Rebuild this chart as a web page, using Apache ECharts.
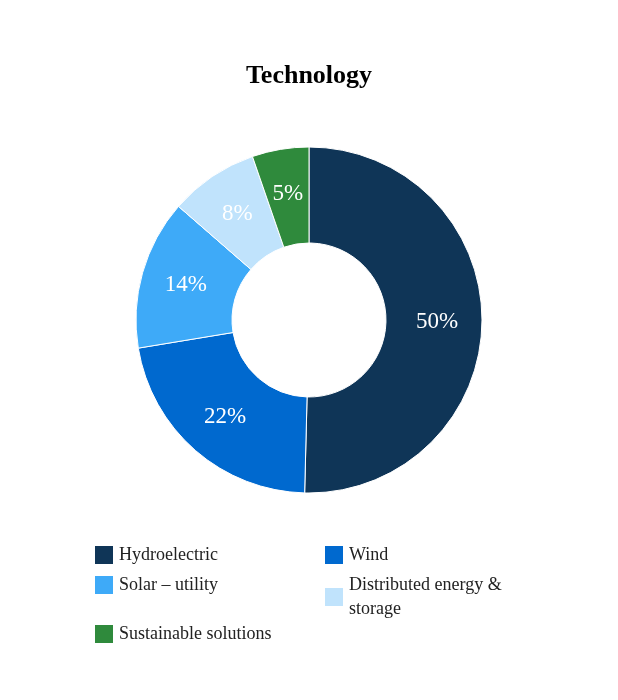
<!DOCTYPE html>
<html><head><meta charset="utf-8">
<script src="https://cdn.jsdelivr.net/npm/echarts@6/dist/echarts.min.js"></script>
<style>html,body{margin:0;padding:0;background:#fff}#c{width:618px;height:700px}</style>
</head><body><div id="c"></div>
<script>
const categories = ['Hydroelectric','Wind','Solar – utility','Distributed energy &\nstorage','Sustainable solutions'];
const values = [50.4, 22, 14, 8.3, 5.3];
const labels = ['50%','22%','14%','8%','5%'];
const colors = ['#0f3557','#0069cf','#3eaaf8','#c0e3fc','#2f8a3c'];
const font = '"Liberation Serif", "Times New Roman", serif';
const chart = echarts.init(document.getElementById('c'));
const legendBase = {orient:'vertical', itemWidth:20, itemHeight:20, itemGap:6, icon:'rect',
  textStyle:{fontFamily:font, fontSize:18, color:'#222', lineHeight:24}, selectedMode:false};
chart.setOption({
  title:{text:'Technology', left:'center', top:58, textStyle:{fontFamily:font, fontSize:26, fontWeight:'bold', color:'#000'}},
  color: colors,
  legend:[
    Object.assign({}, legendBase, {left:88, top:538, data:[categories[0],categories[2]]}),
    Object.assign({}, legendBase, {left:318, top:538, data:[categories[1],categories[3]]}),
    Object.assign({}, legendBase, {left:88, top:617, data:[categories[4]]})
  ],
  series:[{
    type:'pie', center:[309,320], radius:[77,173], startAngle:90, clockwise:true,
    itemStyle:{borderColor:'#fff', borderWidth:1},
    label:{position:'inside', color:'#fff', fontFamily:font, fontSize:23,
      formatter: p => labels[p.dataIndex]},
    labelLine:{show:false},
    emphasis:{disabled:true},
    data: categories.map((n,i)=>({name:n, value:values[i]}))
  }]
});
</script></body></html>
